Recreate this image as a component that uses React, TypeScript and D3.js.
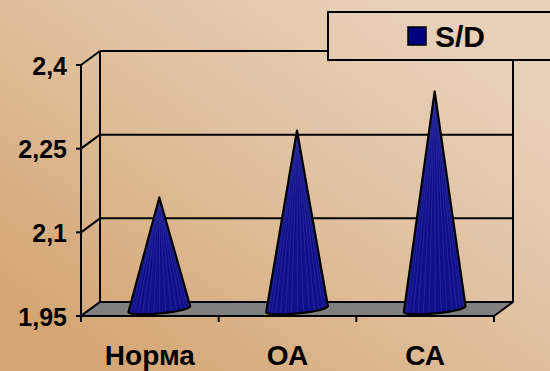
import React from "react";
import * as d3 from "d3";

// S/D ratio by group
const categories = ["Норма", "ОА", "СА"];
const sdValues = [2.15, 2.27, 2.34];
const yTicks = [1.95, 2.1, 2.25, 2.4];
const seriesName = "S/D";

const W = 550;
const H = 371;
// 3D depth offset of the back wall relative to the front plane
const DX = 19;
const DY = -14;

const NAVY = "#10108a";
const FONT = "'Liberation Sans', Arial, sans-serif";

const x = d3.scaleBand<string>().domain(categories).range([81, 494]).padding(0);
const y = d3.scaleLinear().domain([1.95, 2.4]).range([316, 65]);

const fmt = (v: number) => String(v).replace(".", ",");

type Pt = [number, number];

function conePaths(cat: string, value: number) {
  const cx = (x(cat) as number) + x.bandwidth() / 2 + DX / 2;
  const cy = y(1.95) + DY / 2;
  const rx = x.bandwidth() * 0.225;
  const ry = 4.5;
  const rot = (-5.5 * Math.PI) / 180;
  const ell = (t: number): Pt => {
    const ex = rx * Math.cos(t);
    const ey = ry * Math.sin(t);
    return [
      cx + ex * Math.cos(rot) - ey * Math.sin(rot),
      cy + ex * Math.sin(rot) + ey * Math.cos(rot),
    ];
  };
  const apex: Pt = [cx, y(value) + DY / 2];
  const pts: Pt[] = d3.range(0, 72).map((i) => ell((i / 72) * Math.PI * 2));
  const hull = d3.polygonHull([apex, ...pts]) as Pt[];
  const outline = "M" + hull.map((p) => p.join(",")).join("L") + "Z";
  const N = 16;
  const stripes = d3.range(1, N).map((i) => {
    const p = ell((i / N) * Math.PI);
    return { x1: apex[0], y1: apex[1], x2: p[0], y2: p[1] };
  });
  return { outline, stripes };
}

export default function App() {
  const x0 = x.range()[0];
  const x1 = x.range()[1];
  const yBase = y(1.95);
  const yTop = y(2.4);
  const bandEdges = [...categories.map((c) => x(c) as number), x1];

  return (
    <svg
      width={W}
      height={H}
      viewBox={`0 0 ${W} ${H}`}
      style={{ position: "fixed", left: 0, top: 0, display: "block" }}
    >
      <defs>
        <linearGradient
          id="bg"
          gradientUnits="userSpaceOnUse"
          x1={380}
          y1={0}
          x2={120}
          y2={H}
        >
          <stop offset="0" stopColor="#e7d0b8" />
          <stop offset="0.45" stopColor="#e0c09e" />
          <stop offset="1" stopColor="#d4a674" />
        </linearGradient>
        {categories.map((c, i) => (
          <clipPath id={`cone-clip-${i}`} key={c}>
            <path d={conePaths(c, sdValues[i]).outline} />
          </clipPath>
        ))}
      </defs>

      <rect x={0} y={0} width={W} height={H} fill="url(#bg)" />

      {/* back wall gridlines and edges */}
      <g stroke="#000" strokeWidth={2} fill="none">
        {yTicks.slice(1).map((t) => (
          <line key={t} x1={x0 + DX} x2={x1 + DX} y1={y(t) + DY} y2={y(t) + DY} />
        ))}
        <line x1={x0 + DX} x2={x0 + DX} y1={yTop + DY} y2={yBase + DY} />
        <line x1={x1 + DX} x2={x1 + DX} y1={yTop + DY} y2={yBase + DY} />
        {yTicks.map((t) => (
          <line key={`d${t}`} x1={x0} y1={y(t)} x2={x0 + DX} y2={y(t) + DY} />
        ))}
      </g>

      {/* floor */}
      <path
        d={`M${x0},${yBase}L${x1},${yBase}L${x1 + DX},${yBase + DY}L${x0 + DX},${yBase + DY}Z`}
        fill="#808080"
        stroke="#000"
        strokeWidth={2}
        strokeLinejoin="round"
      />

      {/* value axis */}
      <g stroke="#000" strokeWidth={2}>
        <line x1={x0} x2={x0} y1={yTop} y2={yBase} />
        {yTicks.map((t) => (
          <line key={t} x1={x0 - 5} x2={x0} y1={y(t)} y2={y(t)} />
        ))}
        {bandEdges.map((e) => (
          <line key={e} x1={e} x2={e} y1={yBase} y2={yBase + 6} />
        ))}
      </g>
      <g fontFamily={FONT} fontWeight="bold" fontSize={25} fill="#000" textAnchor="end">
        {yTicks.map((t) => (
          <text key={t} x={67} y={y(t) + 9.5}>
            {fmt(t)}
          </text>
        ))}
      </g>

      {/* cones */}
      {categories.map((c, i) => {
        const { outline, stripes } = conePaths(c, sdValues[i]);
        return (
          <g key={c}>
            <path d={outline} fill={NAVY} />
            <g clipPath={`url(#cone-clip-${i})`} stroke="#5c5cbc" strokeWidth={0.6} opacity={0.45}>
              {stripes.map((s, j) => (
                <line key={j} {...s} />
              ))}
            </g>
            <path d={outline} fill="none" stroke="#000" strokeWidth={2.2} strokeLinejoin="round" />
          </g>
        );
      })}

      {/* category labels */}
      <g fontFamily={FONT} fontWeight="bold" fontSize={28} fill="#000" textAnchor="middle">
        {categories.map((c) => (
          <text key={c} x={(x(c) as number) + x.bandwidth() / 2} y={365}>
            {c}
          </text>
        ))}
      </g>

      {/* legend */}
      <g>
        <rect x={328} y={12} width={240} height={48} fill="url(#bg)" stroke="#000" strokeWidth={2} />
        <rect x={408} y={27} width={18} height={18} fill="#000080" stroke="#000" strokeWidth={1.5} />
        <text x={435} y={47} fontFamily={FONT} fontWeight="bold" fontSize={30} fill="#000">
          {seriesName}
        </text>
      </g>
    </svg>
  );
}
